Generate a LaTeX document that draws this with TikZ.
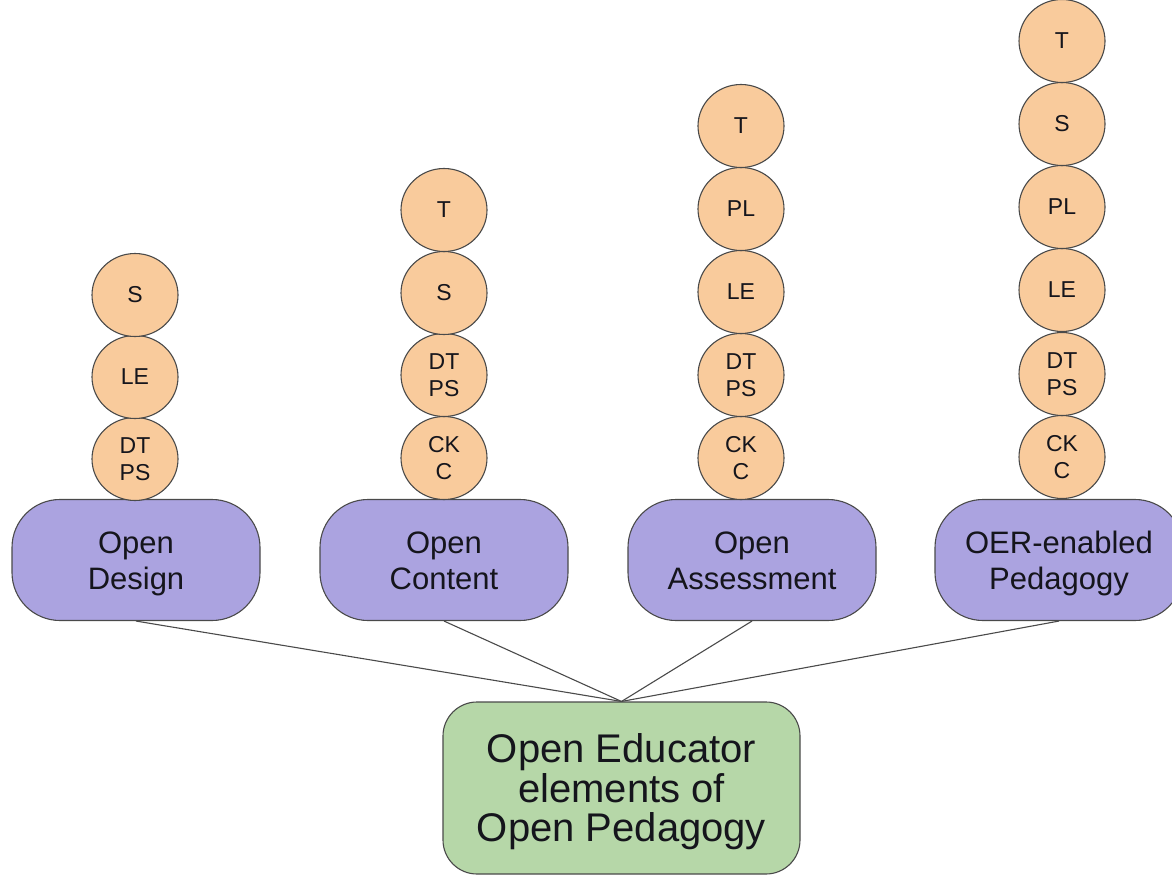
\documentclass[tikz,border=0pt]{standalone}
\usepackage{fontspec}
\setmainfont{Liberation Sans}
\usetikzlibrary{shapes.geometric}
\definecolor{orangefill}{HTML}{F9CB9C}
\definecolor{purplefill}{HTML}{ABA3E0}
\definecolor{greenfill}{HTML}{B6D7A8}
\definecolor{edgegray}{HTML}{4A4A4A}
\definecolor{textdark}{HTML}{15151C}
% first line: cap-height strut; all lines smashed so the block is centred cap-top to last baseline
\newcommand{\capstrut}[1]{\rule{0pt}{#1}}
\begin{document}
\begin{tikzpicture}[x=1pt,y=-1pt,
  ball/.style={ellipse, draw=edgegray, line width=1.1pt, fill=orangefill,
    minimum width=86pt, minimum height=83pt, inner sep=0pt, align=center,
    text=textdark, font=\fontsize{23}{27}\selectfont},
  elem/.style={rectangle, rounded corners=48pt, draw=edgegray, line width=1.1pt,
    fill=purplefill, minimum width=248pt, minimum height=121pt, inner sep=0pt,
    align=center, text=textdark, font=\fontsize{31}{36}\selectfont},
  root/.style={rectangle, rounded corners=34pt, draw=edgegray, line width=1.1pt,
    fill=greenfill, minimum width=357pt, minimum height=172pt, inner sep=0pt,
    align=center, text=textdark, font=\fontsize{40}{39.5}\selectfont},
  link/.style={draw=edgegray, line width=1.1pt}]
\useasboundingbox (0,0) rectangle (1172,875);
\clip (0,0) rectangle (1172,875);

% purple boxes
\node[elem] (d) at (136,560) {\capstrut{22.2pt}\smash{Open}\\\smash{Design}};
\node[elem] (c) at (444,560) {\capstrut{22.2pt}\smash{Open}\\\smash{Content}};
\node[elem] (a) at (752,560) {\capstrut{22.2pt}\smash{Open}\\\smash{Assessment}};
\node[elem] (p) at (1059,560) {\capstrut{22.2pt}\smash{OER-enabled}\\\smash{Pedagogy}};

% green root
\node[root] (r) at (621.5,788) {\capstrut{28.6pt}\smash{Open Educator}\\\smash{elements of}\\\smash{Open Pedagogy}};

% connectors
\draw[link] (d.south) -- (r.north);
\draw[link] (c.south) -- (r.north);
\draw[link] (a.south) -- (r.north);
\draw[link] (p.south) -- (r.north);

% column 1
\node[ball] (d1) at (135,459) {DT\\PS};
\node[ball] (d2) at (135,377) {LE};
\node[ball] (d3) at (135,295) {S};

% column 2
\node[ball] (c1) at (444,458) {CK\\C};
\node[ball] (c2) at (444,375) {DT\\PS};
\node[ball] (c3) at (444,293) {S};
\node[ball] (c4) at (444,210) {T};

% column 3
\node[ball] (a1) at (741,458) {CK\\C};
\node[ball] (a2) at (741,375) {DT\\PS};
\node[ball] (a3) at (741,292) {LE};
\node[ball] (a4) at (741,209) {PL};
\node[ball] (a5) at (741,126) {T};

% column 4
\node[ball] (p1) at (1062,457) {CK\\C};
\node[ball] (p2) at (1062,374) {DT\\PS};
\node[ball] (p3) at (1062,290) {LE};
\node[ball] (p4) at (1062,207) {PL};
\node[ball] (p5) at (1062,124) {S};
\node[ball] (p6) at (1062,41) {T};
\end{tikzpicture}
\end{document}
